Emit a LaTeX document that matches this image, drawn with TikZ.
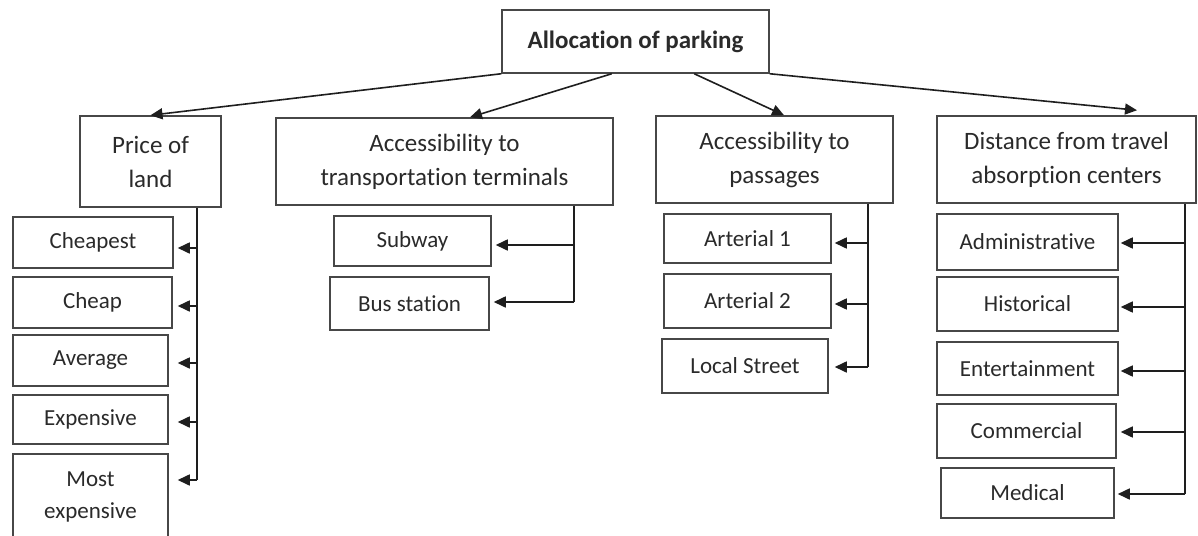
\documentclass[tikz,border=0pt]{standalone}
\usepackage{fontspec}
\setmainfont{Carlito}[Ligatures={NoCommon}]
\usetikzlibrary{arrows.meta}
\definecolor{boxc}{HTML}{474747}
\definecolor{linec}{HTML}{1E1E1E}
\definecolor{txt}{HTML}{2A2A2A}
\begin{document}
\begin{tikzpicture}[x=1pt,y=-1pt,
  box/.style={draw=boxc, line width=1.5pt, inner sep=0pt, align=center, text=txt, fill=white},
  cat/.style={box, font=\fontsize{25}{34}\selectfont},
  item/.style={box, font=\fontsize{23}{32}\selectfont},
  conn/.style={draw=linec, line width=1.6pt},
  arr/.style={conn, -{Triangle[length=12pt,width=11pt]}}]
\fill[white] (0,0) rectangle (1198,535);
\useasboundingbox (0,0) rectangle (1198,535);
\clip (0,0) rectangle (1198,535);

% top
\node[box, font=\bfseries\fontsize{25}{30}\selectfont, minimum width=267pt, minimum height=63pt] (top) at (635.5,41.5) {Allocation of parking};

% categories
\node[cat, minimum width=141pt, minimum height=91pt] (price) at (150.5,161.5) {Price of\\land};
\node[cat, minimum width=337pt, minimum height=87pt] (transport) at (444.5,161.5) {Accessibility to\\transportation terminals};
\node[cat, minimum width=237pt, minimum height=87pt] (passages) at (774.5,159.5) {Accessibility to\\passages};
\node[cat, minimum width=259pt, minimum height=87pt] (distance) at (1066.5,159.5) {Distance from travel\\absorption centers};

% price items
\node[item, minimum width=160pt, minimum height=51pt] (cheapest) at (93,242.5) {Cheapest};
\node[item, minimum width=159pt, minimum height=51pt] (cheap) at (92.5,302.5) {Cheap};
\node[item, minimum width=155pt, minimum height=51pt] (average) at (90.5,360.5) {Average};
\node[item, minimum width=155pt, minimum height=49pt] (expensive) at (90.5,419.5) {Expensive};
\node[item, minimum width=155pt, minimum height=86pt] (mostexp) at (90.5,497) {Most\\expensive};

% transport items
\node[item, minimum width=157pt, minimum height=50pt] (subway) at (412.5,241) {Subway};
\node[item, minimum width=159pt, minimum height=53pt] (bus) at (409.5,303.5) {Bus station};

% passages items
\node[item, minimum width=167pt, minimum height=49pt] (art1) at (747.5,238.5) {Arterial 1};
\node[item, minimum width=167pt, minimum height=54pt] (art2) at (747.5,301) {Arterial 2};
\node[item, minimum width=166pt, minimum height=54pt] (local) at (745,366) {Local Street};

% distance items
\node[item, minimum width=181pt, minimum height=56pt] (admin) at (1027.5,242) {Administrative};
\node[item, minimum width=181pt, minimum height=54pt] (hist) at (1027.5,304) {Historical};
\node[item, minimum width=181pt, minimum height=53pt] (ent) at (1027.5,368.5) {Entertainment};
\node[item, minimum width=179pt, minimum height=54pt] (comm) at (1026.5,431) {Commercial};
\node[item, minimum width=173pt, minimum height=50pt] (med) at (1027.5,493) {Medical};

% top connectors
\draw[arr] (top.south west) -- (price.north);
\draw[arr] ([xshift=110.5pt]top.south west) -- ([xshift=25.5pt]transport.north);
\draw[arr] ([xshift=193pt]top.south west) -- ([xshift=9.5pt]passages.north);
\draw[arr] (top.south east) -- ([xshift=70.5pt,yshift=5pt]distance.north);

% price bus
\coordinate (pbus) at (197,480);
\draw[conn] ([xshift=46.5pt]price.south) -- (pbus);
\draw[arr] ([yshift=-5.5pt]cheapest.east -| pbus) -- ([xshift=4pt,yshift=-5.5pt]cheapest.east);
\draw[arr] ([yshift=-3.5pt]cheap.east -| pbus) -- ([xshift=5pt,yshift=-3.5pt]cheap.east);
\draw[arr] ([yshift=-2.5pt]average.east -| pbus) -- ([xshift=9pt,yshift=-2.5pt]average.east);
\draw[arr] ([yshift=-2.5pt]expensive.east -| pbus) -- ([xshift=9pt,yshift=-2.5pt]expensive.east);
\draw[arr] ([yshift=17pt]mostexp.east -| pbus) -- ([xshift=9pt,yshift=17pt]mostexp.east);

% transport bus
\coordinate (tbus) at (574,302);
\draw[conn] ([xshift=129.5pt]transport.south) -- (tbus);
\draw[arr] ([yshift=-4pt]subway.east -| tbus) -- ([xshift=4pt,yshift=-4pt]subway.east);
\draw[arr] ([yshift=1.5pt]bus.east -| tbus) -- ([xshift=4pt,yshift=1.5pt]bus.east);

% passages bus
\coordinate (abus) at (868,367);
\draw[conn] ([xshift=93.5pt]passages.south) -- (abus);
\draw[arr] ([yshift=-4.5pt]art1.east -| abus) -- ([xshift=3pt,yshift=-4.5pt]art1.east);
\draw[arr] ([yshift=-3pt]art2.east -| abus) -- ([xshift=3pt,yshift=-3pt]art2.east);
\draw[arr] ([yshift=-1pt]local.east -| abus) -- ([xshift=6pt,yshift=-1pt]local.east);

% distance bus
\coordinate (dbus) at (1185,494);
\draw[conn] ([xshift=118.5pt]distance.south) -- (dbus);
\draw[arr] ([yshift=-1pt]admin.east -| dbus) -- ([xshift=2pt,yshift=-1pt]admin.east);
\draw[arr] ([yshift=-3pt]hist.east -| dbus) -- ([xshift=2pt,yshift=-3pt]hist.east);
\draw[arr] ([yshift=-2.5pt]ent.east -| dbus) -- ([xshift=2pt,yshift=-2.5pt]ent.east);
\draw[arr] ([yshift=-1pt]comm.east -| dbus) -- ([xshift=4pt,yshift=-1pt]comm.east);
\draw[arr] ([yshift=-1pt]med.east -| dbus) -- ([xshift=3pt,yshift=-1pt]med.east);
\end{tikzpicture}
\end{document}
